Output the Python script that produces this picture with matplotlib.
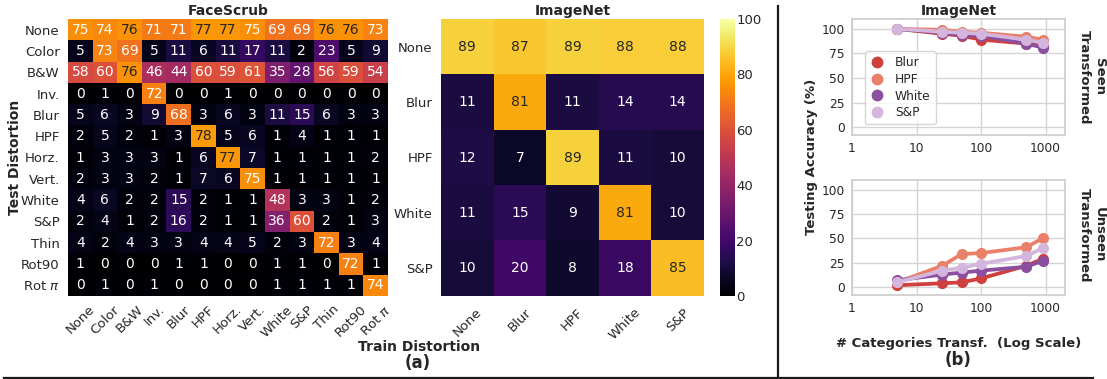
import numpy as np
import matplotlib
matplotlib.use("Agg")
import matplotlib.pyplot as plt
from matplotlib.lines import Line2D
from matplotlib.ticker import FixedLocator, FixedFormatter

plt.rcParams['font.family'] = ['DejaVu Sans']

# ---------------- data ----------------
face_labels = ["None", "Color", "B&W", "Inv.", "Blur", "HPF", "Horz.", "Vert.",
               "White", "S&P", "Thin", "Rot90", r"Rot $\pi$"]
face_values = [
    [75, 74, 76, 71, 71, 77, 77, 75, 69, 69, 76, 76, 73],
    [5, 73, 69, 5, 11, 6, 11, 17, 11, 2, 23, 5, 9],
    [58, 60, 76, 46, 44, 60, 59, 61, 35, 28, 56, 59, 54],
    [0, 1, 0, 72, 0, 0, 1, 0, 0, 0, 0, 0, 0],
    [5, 6, 3, 9, 68, 3, 6, 3, 11, 15, 6, 3, 3],
    [2, 5, 2, 1, 3, 78, 5, 6, 1, 4, 1, 1, 1],
    [1, 3, 3, 3, 1, 6, 77, 7, 1, 1, 1, 1, 2],
    [2, 3, 3, 2, 1, 7, 6, 75, 1, 1, 1, 1, 1],
    [4, 6, 2, 2, 15, 2, 1, 1, 48, 3, 3, 1, 2],
    [2, 4, 1, 2, 16, 2, 1, 1, 36, 60, 2, 1, 3],
    [4, 2, 4, 3, 3, 4, 4, 5, 2, 3, 72, 3, 4],
    [1, 0, 0, 0, 1, 1, 0, 0, 1, 1, 0, 72, 1],
    [0, 1, 0, 1, 0, 0, 0, 0, 1, 1, 1, 1, 74],
]

imnet_labels = ["None", "Blur", "HPF", "White", "S&P"]
imnet_values = [
    [89, 87, 89, 88, 88],
    [11, 81, 11, 14, 14],
    [12, 7, 89, 11, 10],
    [11, 15, 9, 81, 10],
    [10, 20, 8, 18, 85],
]

n_categories = [5, 25, 50, 100, 500, 900]
series_names = ["Blur", "HPF", "White", "S&P"]
seen_blur = [100, 95, 93, 89, 85, 84]
seen_hpf = [100, 99, 97, 96, 92, 89]
seen_white = [100, 96, 94, 93, 85, 81]
seen_sp = [100, 97, 96, 95, 89, 86]
unseen_blur = [2, 4, 5, 9, 22, 29]
unseen_hpf = [5, 22, 34, 35, 41, 50]
unseen_white = [7, 13, 15, 17, 21, 27]
unseen_sp = [5, 17, 20, 24, 32, 40]

series_colors = ["#cf3f3c", "#e9806a", "#8c4f9f", "#d3b5dd"]

# ---------------- figure ----------------
W, H = 1107, 379
fig = plt.figure(figsize=(W / 100, H / 100), dpi=100)
TXT = "#262626"


def px_axes(x0, y0, x1, y1):
    return fig.add_axes([x0 / W, 1 - y1 / H, (x1 - x0) / W, (y1 - y0) / H])


cmap = plt.get_cmap("inferno")


def lum(rgb):
    rgb = np.array(rgb[:3])
    rgb = np.where(rgb <= .03928, rgb / 12.92, ((rgb + .055) / 1.055) ** 2.4)
    return rgb.dot([.2126, .7152, .0722])


def heatmap(ax, vals, labels, fs_ann=10):
    arr = np.array(vals, dtype=float)
    im = ax.imshow(arr, cmap=cmap, vmin=0, vmax=100, aspect='auto',
                   interpolation='nearest')
    n = arr.shape[0]
    for i in range(n):
        for j in range(arr.shape[1]):
            c = cmap(arr[i, j] / 100)
            col = TXT if lum(c) > .408 else "white"
            ax.text(j, i, f"{int(arr[i, j])}", ha='center', va='center',
                    color=col, fontsize=fs_ann)
    ax.set_xticks(range(arr.shape[1]))
    ax.set_yticks(range(n))
    ax.set_xticklabels(labels, rotation=45, ha='center', fontsize=9.5, color=TXT)
    ax.set_yticklabels(labels, fontsize=9.5, color=TXT)
    ax.tick_params(length=0, pad=6)
    for s in ax.spines.values():
        s.set_visible(False)
    return im


# FaceScrub heatmap
ax1 = px_axes(68, 19, 388, 296)
heatmap(ax1, face_values, face_labels, fs_ann=10)
ax1.set_title("FaceScrub", fontsize=10, fontweight='bold', color=TXT, pad=3)
ax1.tick_params(axis='x', pad=5)

# ImageNet heatmap
ax2 = px_axes(441, 19, 704, 296)
im = heatmap(ax2, imnet_values, imnet_labels, fs_ann=10)
ax2.set_title("ImageNet", fontsize=10, fontweight='bold', color=TXT, pad=3)
ax2.tick_params(axis='x', pad=7)

cax = px_axes(720, 19, 735, 296)
cb = fig.colorbar(im, cax=cax)
cb.outline.set_visible(False)
cb.set_ticks([0, 20, 40, 60, 80, 100])
cax.tick_params(length=0, pad=1, labelsize=9.5, labelcolor=TXT)

fig.text(15 / W, 1 - 157 / H, "Test Distortion", rotation=90, ha='center',
         va='center', fontsize=10, fontweight='bold', color=TXT)
fig.text(419 / W, 1 - 347 / H, "Train Distortion", ha='center', va='center',
         fontsize=10, fontweight='bold', color=TXT)
fig.text(418 / W, 1 - 363 / H, "(a)", ha='center', va='center',
         fontsize=12, fontweight='bold', color=TXT)

# ---------------- line plots ----------------
seen = [seen_blur, seen_hpf, seen_white, seen_sp]
unseen = [unseen_blur, unseen_hpf, unseen_white, unseen_sp]


def style_line_ax(ax):
    ax.set_xscale('log')
    ax.set_xlim(1, 2000)
    ax.set_ylim(-8, 110)
    ax.xaxis.set_major_locator(FixedLocator([1, 10, 100, 1000]))
    ax.xaxis.set_major_formatter(FixedFormatter(["1", "10", "100", "1000"]))
    ax.xaxis.set_minor_locator(FixedLocator([]))
    ax.set_yticks([0, 25, 50, 75, 100])
    ax.grid(True, color="#d5d5d5", lw=1.0)
    ax.set_axisbelow(True)
    for s in ax.spines.values():
        s.set_color("#cccccc")
        s.set_linewidth(1.2)
    ax.tick_params(length=0, labelsize=8.8, labelcolor=TXT, pad=5)


ax3 = px_axes(852, 19, 1065, 135)
ax4 = px_axes(852, 180, 1065, 295)
for ax, data in ((ax3, seen), (ax4, unseen)):
    style_line_ax(ax)
    for name, vals, col in zip(series_names, data, series_colors):
        ax.plot(n_categories, vals, color=col, lw=2.7, marker='o',
                markersize=7, label=name)

handles = [Line2D([], [], color=c, marker='o', ls='none', markersize=7.5)
           for c in series_colors]
leg = ax3.legend(handles, series_names, loc='lower left',
                 bbox_to_anchor=(0.03, 0.04), fontsize=8.8, frameon=True,
                 handletextpad=0.9, labelspacing=0.3, borderpad=0.4,
                 handlelength=1.2)
leg.get_frame().set_edgecolor("#cccccc")
for t in leg.get_texts():
    t.set_color(TXT)

ax3.set_title("ImageNet", fontsize=10, fontweight='bold', color=TXT, pad=3)

fig.text(1092 / W, 1 - 77 / H, "Seen\nTransformed", rotation=270, ha='center',
         va='center', fontsize=9.5, fontweight='bold', color=TXT,
         multialignment='center')
fig.text(1092 / W, 1 - 235 / H, "Unseen\nTransformed", rotation=270,
         ha='center', va='center', fontsize=9.5, fontweight='bold', color=TXT,
         multialignment='center')
fig.text(811 / W, 1 - 157 / H, "Testing Accuracy (%)", rotation=90,
         ha='center', va='center', fontsize=9.5, fontweight='bold', color=TXT)
fig.text(959 / W, 1 - 343 / H, "# Categories Transf.  (Log Scale)",
         ha='center', va='center', fontsize=9.5, fontweight='bold', color=TXT)
fig.text(958 / W, 1 - 360 / H, "(b)", ha='center', va='center',
         fontsize=12, fontweight='bold', color=TXT)

# frame lines
fig.add_artist(Line2D([778 / W, 778 / W], [1 - 6 / H, 1 - 378 / H],
                      transform=fig.transFigure, color="#1a1a1a", lw=1.6))
fig.add_artist(Line2D([4 / W, 1093 / W], [1 - 378 / H, 1 - 378 / H],
                      transform=fig.transFigure, color="#1a1a1a", lw=1.6))

fig.savefig("out.png", dpi=100)
